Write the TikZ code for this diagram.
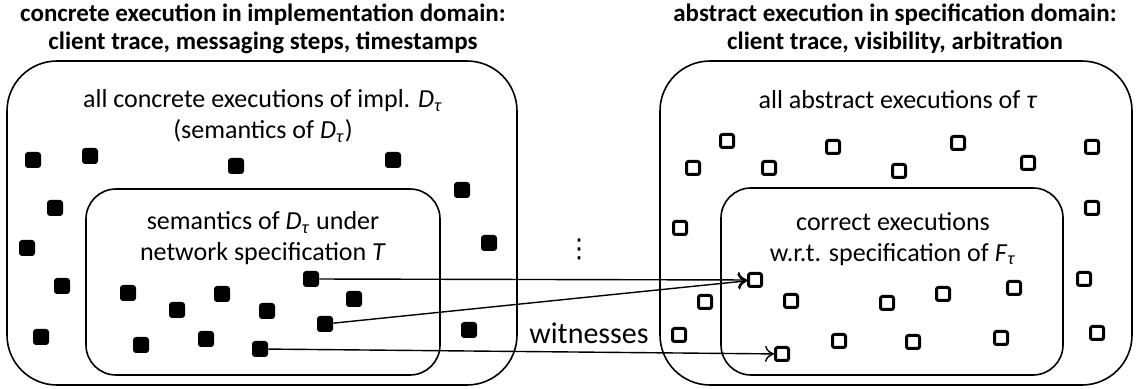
\documentclass[tikz,border=0pt]{standalone}
\usepackage{fontspec}
\setmainfont{Carlito}
\newfontfamily\symfont{DejaVu Sans}
\usetikzlibrary{arrows.meta,backgrounds}

\newcommand{\Dtau}{\textit{D}\textsubscript{\textit{τ}}}
\newcommand{\Ftau}{\textit{F}\textsubscript{\textit{τ}}}

\begin{document}
\begin{tikzpicture}[x=0.5pt,y=-0.5pt]
\tikzstyle{region} = [rectangle, draw, line width=0.8pt, rounded corners=25pt, inner sep=0pt]
\tikzstyle{subregion} = [rectangle, draw, line width=0.8pt, rounded corners=15pt, inner sep=0pt]
\tikzstyle{title} = [font=\fontsize{12.5}{14}\selectfont\bfseries, align=center]
\tikzstyle{txt} = [font=\fontsize{13}{15.5}\selectfont, align=center]
\tikzstyle{concrete} = [rectangle, fill=black, rounded corners=1.5pt, minimum size=8pt, inner sep=0pt]
\tikzstyle{abstract} = [rectangle, draw, line width=1.5pt, rounded corners=1pt, minimum size=6.5pt, inner sep=0pt]
\tikzstyle{line} = [draw, line width=0.7pt, -{To[length=4.5pt,width=8pt]}]
\useasboundingbox (0,0) rectangle (1140,389);

% implementation domain
\node [title] (impltitle) at (263,29) {concrete execution in implementation domain:\\ client trace, messaging steps, timestamps};
\node [region, minimum width=255pt, minimum height=162pt] (allimpl) at (262,223) {};
\node [subregion, minimum width=177pt, minimum height=93pt] (netimpl) at (263,282) {};
\node [txt] (allimpltext) at (263,116) {all concrete executions of impl. \Dtau\\ (semantics of \Dtau)};
\node [txt] (netimpltext) at (263,238) {semantics of \Dtau{} under\\ network specification \textit{T}};

% specification domain
\node [title] (spectitle) at (895,29) {abstract execution in specification domain:\\ client trace, visibility, arbitration};
\node [region, minimum width=236pt, minimum height=162pt] (allabs) at (896,223) {};
\node [subregion, minimum width=171pt, minimum height=93.5pt] (correct) at (892,281.5) {};
\node [txt] (allabstext) at (898,100) {all abstract executions of \textit{τ}};
\node [txt] (correcttext) at (893,239) {correct executions\\ w.r.t. specification of \Ftau};

% between
\node [txt] (more) at (579,249) {\symfont ⋮};
\node [txt, font=\fontsize{15}{17}\selectfont] (witnesses) at (589,333) {witnesses};

% executions
\foreach \x/\y [count=\i] in {33/160, 90/156, 236/166, 393/160, 462/190, 55/208, 27/248,
  489/243, 62/286, 41/337, 469/330, 128/293, 177/310, 222/294, 267/311, 354/299,
  141/345, 206/339}
  \node [concrete] (c\i) at (\x,\y) {};
\node [concrete] (sem1) at (311,279) {};
\node [concrete] (sem2) at (325,324) {};
\node [concrete] (sem3) at (260,349) {};

\foreach \x/\y [count=\i] in {693/168, 727/141, 769/168, 833/147, 899/171, 958/143,
  1028/163, 1092/147, 1092/208, 680/228, 705/302, 679/335, 1084/279, 1097/333,
  791/301, 887/303, 943/294, 1014/288, 839/341, 913/342, 1001/338}
  \node [abstract] (a\i) at (\x,\y) {};
\node [abstract] (abs1) at (755,280) {};
\node [abstract] (abs2) at (782,354) {};

\tikzstyle{every path}=[line]
\path (sem1) -- (abs1);
\path (sem2) -- (abs1);
\path (sem3) -- (abs2);

\end{tikzpicture}
\end{document}
